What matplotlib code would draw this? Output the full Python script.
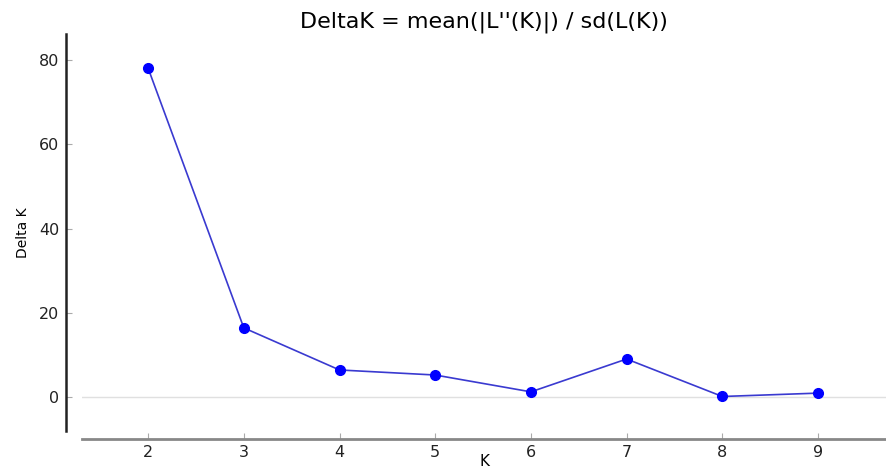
import numpy as np
import matplotlib.pyplot as plt

# Delta K per K (Evanno method)
k_values = [2, 3, 4, 5, 6, 7, 8, 9]
delta_k = [78.1, 16.4, 6.4, 5.2, 1.2, 9.0, 0.1, 0.9]
y_ticks = [0, 20, 40, 60, 80]

fig = plt.figure(figsize=(8.86, 4.69), dpi=100)
ax = fig.add_axes([0.0926, 0.081, 0.9074, 0.8465])

# garis nol
ax.axhline(0, color='#e0e0e0', linewidth=1, zorder=1)

ax.plot(k_values, delta_k, '-', color='#3a3ad0', linewidth=1.2, zorder=2)
ax.plot(k_values, delta_k, 'o', color='#0000ff', markersize=7, zorder=3)

ax.set_xlim(1.31, 9.71)
ax.set_ylim(-8.1, 86.2)
ax.set_xticks(k_values)
ax.set_yticks(y_ticks)

for s in ['top', 'right']:
    ax.spines[s].set_visible(False)
ax.spines['left'].set_position(('outward', 11.5))
ax.spines['left'].set_color('#222222')
ax.spines['left'].set_linewidth(1.8)
ax.spines['bottom'].set_position(('outward', 5.8))
ax.spines['bottom'].set_color('#888888')
ax.spines['bottom'].set_linewidth(2)

ax.tick_params(direction='in', length=4, width=0.8, color='#aaaaaa',
               labelsize=11.5, labelcolor='#222222')
ax.tick_params(axis='x', pad=4)
ax.tick_params(axis='y', pad=5)

ax.set_xlabel('K', fontsize=11, labelpad=-4)
ax.set_ylabel('Delta K', fontsize=10, family='Liberation Sans Narrow', labelpad=6)
ax.set_title("DeltaK = mean(|L''(K)|) / sd(L(K))", fontsize=16, pad=5)

fig.savefig('out.png', dpi=100)
